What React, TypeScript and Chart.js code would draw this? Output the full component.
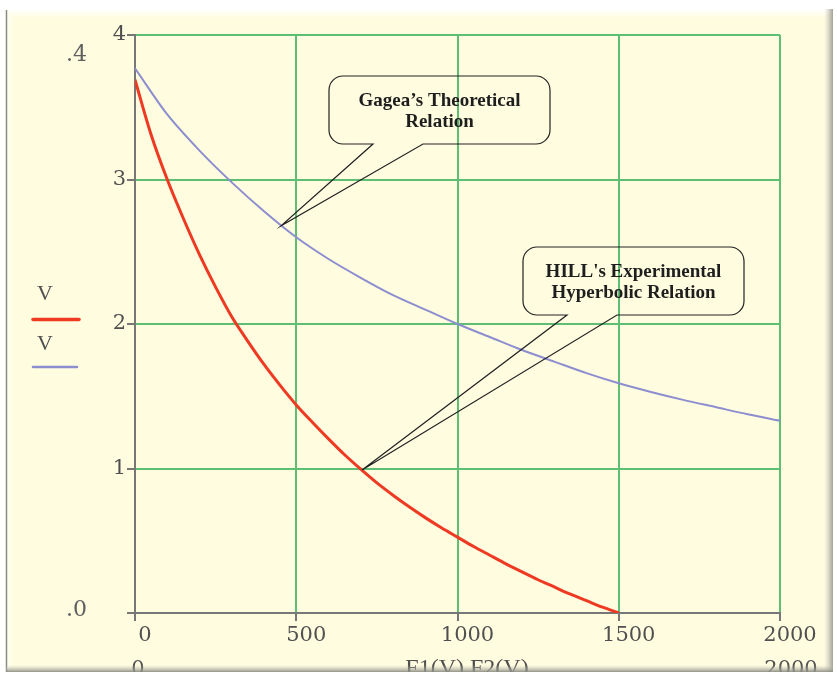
import React, { useEffect, useRef } from 'react';
import { Chart, registerables } from 'chart.js';

Chart.register(...registerables);

// ---- data ----
const hillForce = [0, 50, 100, 150, 200, 250, 300, 350, 400, 450, 500, 550, 600, 650, 700, 750, 800, 850, 900, 950, 1000, 1050, 1100, 1150, 1200, 1250, 1300, 1350, 1400, 1450, 1500];
const hillVelocity = [3.69, 3.31, 3.0, 2.73, 2.48, 2.255, 2.05, 1.88, 1.72, 1.575, 1.44, 1.32, 1.205, 1.095, 0.995, 0.9, 0.815, 0.735, 0.66, 0.59, 0.525, 0.46, 0.4, 0.34, 0.285, 0.23, 0.18, 0.13, 0.085, 0.04, 0.0];

const gageaForce = [0, 100, 200, 300, 400, 500, 600, 700, 800, 900, 1000, 1100, 1200, 1300, 1400, 1500, 1600, 1700, 1800, 1900, 2000];
const gageaVelocity = [3.77, 3.45, 3.2, 2.98, 2.78, 2.6, 2.45, 2.32, 2.2, 2.1, 2.0, 1.91, 1.82, 1.74, 1.66, 1.59, 1.53, 1.475, 1.425, 1.375, 1.33];

const xTicks = [0, 500, 1000, 1500, 2000];
const yTicks = [0, 1, 2, 3, 4];

const legendLabels = ['V', 'V'];
const calloutGagea = ['Gagea\u2019s Theoretical', 'Relation'];
const calloutHill = ["HILL's Experimental", 'Hyperbolic Relation'];
const gageaTip = { x: 453, y: 2.68 };
const hillTip = { x: 704, y: 0.99 };

const CREAM = '#FFFCE0';
const GREEN = '#5CBF74';
const AXIS = '#777777';
const RED = '#EE3A22';
const BLUE = '#8C8ED0';
const TEXT_GRAY = '#505050';
const TICK_FONT = '"DejaVu Serif", serif';

function drawFrameBottom(ctx: CanvasRenderingContext2D) {
  const gr = ctx.createLinearGradient(824, 0, 833, 0);
  gr.addColorStop(0, 'rgba(200,200,190,0)');
  gr.addColorStop(1, 'rgba(150,150,140,0.9)');
  ctx.fillStyle = gr;
  ctx.fillRect(824, 9, 9, 663);
  const gb = ctx.createLinearGradient(0, 665, 0, 672);
  gb.addColorStop(0, 'rgba(200,200,190,0)');
  gb.addColorStop(1, 'rgba(140,140,130,0.95)');
  ctx.fillStyle = gb;
  ctx.fillRect(6, 665, 827, 7);
  ctx.fillStyle = '#ffffff';
  ctx.fillRect(0, 672, 837, 3);
  ctx.fillRect(833, 0, 4, 675);
}

function drawCallout(
  ctx: CanvasRenderingContext2D,
  box: { l: number; t: number; r: number; b: number; rad: number; n1: number; n2: number },
  tip: { x: number; y: number },
  lines: string[],
) {
  const { l, t, r, b, rad, n1, n2 } = box;
  ctx.beginPath();
  ctx.moveTo(n1, b);
  ctx.lineTo(l + rad, b);
  ctx.arcTo(l, b, l, b - rad, rad);
  ctx.lineTo(l, t + rad);
  ctx.arcTo(l, t, l + rad, t, rad);
  ctx.lineTo(r - rad, t);
  ctx.arcTo(r, t, r, t + rad, rad);
  ctx.lineTo(r, b - rad);
  ctx.arcTo(r, b, r - rad, b, rad);
  ctx.lineTo(n2, b);
  ctx.lineTo(tip.x, tip.y);
  ctx.closePath();
  ctx.strokeStyle = '#222222';
  ctx.lineWidth = 1.2;
  ctx.stroke();
  ctx.fillStyle = '#1e1e1e';
  ctx.font = 'bold 19px "Liberation Serif", serif';
  ctx.textAlign = 'center';
  ctx.textBaseline = 'alphabetic';
  const cx = (l + r) / 2;
  ctx.fillText(lines[0], cx, t + 30);
  ctx.fillText(lines[1], cx, t + 51);
}

export default function App() {
  const ref = useRef<HTMLCanvasElement>(null);

  useEffect(() => {
    const canvas = ref.current;
    if (!canvas) return;

    const framePlugin = {
      id: 'frame',
      beforeDraw(chart: any) {
        const ctx: CanvasRenderingContext2D = chart.ctx;
        ctx.save();
        ctx.fillStyle = '#ffffff';
        ctx.fillRect(0, 0, chart.width, chart.height);
        ctx.fillStyle = CREAM;
        ctx.fillRect(6, 9, 827, 663);
        const gt = ctx.createLinearGradient(0, 9, 0, 18);
        gt.addColorStop(0, '#ffffff');
        gt.addColorStop(1, CREAM);
        ctx.fillStyle = gt;
        ctx.beginPath();
        ctx.moveTo(6, 9);
        ctx.lineTo(833, 9);
        ctx.lineTo(824, 18);
        ctx.lineTo(15, 18);
        ctx.closePath();
        ctx.fill();
        const gl = ctx.createLinearGradient(7, 0, 14, 0);
        gl.addColorStop(0, '#fffff4');
        gl.addColorStop(1, CREAM);
        ctx.fillStyle = gl;
        ctx.beginPath();
        ctx.moveTo(7, 9);
        ctx.lineTo(15, 18);
        ctx.lineTo(15, 664);
        ctx.lineTo(7, 672);
        ctx.closePath();
        ctx.fill();
        ctx.strokeStyle = '#8a8a80';
        ctx.lineWidth = 1.5;
        ctx.beginPath();
        ctx.moveTo(6.5, 10);
        ctx.lineTo(6.5, 672);
        ctx.stroke();
        ctx.restore();
      },
      afterDraw(chart: any) {
        const ctx: CanvasRenderingContext2D = chart.ctx;
        const xs = chart.scales.x;
        const ys = chart.scales.y;
        ctx.save();

        // Mathcad-style axis limit labels
        ctx.fillStyle = '#606060';
        ctx.font = '22px "DejaVu Serif", serif';
        ctx.textAlign = 'left';
        ctx.textBaseline = 'alphabetic';
        ctx.fillText('.4', 66, 61);
        ctx.fillText('.0', 66, 616);

        // legend
        ctx.fillStyle = TEXT_GRAY;
        ctx.font = '22px "Liberation Serif", serif';
        ctx.textAlign = 'center';
        ctx.fillText(legendLabels[0], 45, 300);
        ctx.fillText(legendLabels[1], 45, 350);
        ctx.lineCap = 'round';
        ctx.strokeStyle = RED;
        ctx.lineWidth = 3.5;
        ctx.beginPath();
        ctx.moveTo(33, 319.5);
        ctx.lineTo(79, 319.5);
        ctx.stroke();
        ctx.strokeStyle = BLUE;
        ctx.lineWidth = 2.5;
        ctx.beginPath();
        ctx.moveTo(33, 367);
        ctx.lineTo(77, 367);
        ctx.stroke();

        // callouts
        drawCallout(
          ctx,
          { l: 329, t: 76, r: 550, b: 144, rad: 14, n1: 373, n2: 423 },
          { x: xs.getPixelForValue(gageaTip.x), y: ys.getPixelForValue(gageaTip.y) },
          calloutGagea,
        );
        drawCallout(
          ctx,
          { l: 523, t: 247, r: 744, b: 315, rad: 14, n1: 567, n2: 617 },
          { x: xs.getPixelForValue(hillTip.x), y: ys.getPixelForValue(hillTip.y) },
          calloutHill,
        );

        // bottom row (cut off by frame)
        ctx.fillStyle = TEXT_GRAY;
        ctx.font = '21px ' + TICK_FONT;
        ctx.textAlign = 'center';
        ctx.fillText(String(xTicks[0]), 138, 675);
        ctx.fillText(String(xTicks[xTicks.length - 1]), 791, 675);
        ctx.font = '24px "Liberation Serif", serif';
        ctx.fillText('F1(V),F2(V)', 467, 675);

        drawFrameBottom(ctx);
        ctx.restore();
      },
    };

    const chart = new Chart(canvas, {
      type: 'line',
      data: {
        datasets: [
          {
            label: legendLabels[0],
            data: hillForce.map((f, i) => ({ x: f, y: hillVelocity[i] })),
            borderColor: RED,
            borderWidth: 3,
            pointRadius: 0,
            tension: 0.3,
            fill: false,
          },
          {
            label: legendLabels[1],
            data: gageaForce.map((f, i) => ({ x: f, y: gageaVelocity[i] })),
            borderColor: BLUE,
            borderWidth: 2,
            pointRadius: 0,
            tension: 0.3,
            fill: false,
          },
        ],
      },
      options: {
        responsive: false,
        animation: false,
        devicePixelRatio: 1,
        layout: { padding: { left: 105, right: 57, top: 35, bottom: 22 } },
        plugins: { legend: { display: false }, tooltip: { enabled: false } },
        scales: {
          x: {
            type: 'linear',
            min: xTicks[0],
            max: xTicks[xTicks.length - 1],
            afterBuildTicks: (s: any) => {
              s.ticks = xTicks.map((v) => ({ value: v }));
            },
            afterFit: (s: any) => {
              s.height = 40;
            },
            ticks: {
              labelOffset: 10,
              padding: 2,
              maxRotation: 0,
              autoSkip: false,
              color: TEXT_GRAY,
              font: { family: TICK_FONT, size: 21 },
              callback: (v: any) => String(v),
            },
            grid: {
              color: (c: any) => (c.tick && c.tick.value === 0 ? 'rgba(0,0,0,0)' : GREEN),
              lineWidth: 2,
              tickColor: AXIS,
              tickLength: 8,
            },
            border: { color: AXIS, width: 2 },
          },
          y: {
            type: 'linear',
            min: yTicks[0],
            max: yTicks[yTicks.length - 1],
            afterBuildTicks: (s: any) => {
              s.ticks = yTicks.map((v) => ({ value: v }));
            },
            afterFit: (s: any) => {
              s.width = 30;
            },
            ticks: {
              padding: 1,
              color: TEXT_GRAY,
              font: { family: TICK_FONT, size: 21 },
              callback: (v: any) => (v === 0 ? '' : String(v)),
            },
            grid: {
              color: (c: any) => (c.tick && c.tick.value === 0 ? 'rgba(0,0,0,0)' : GREEN),
              lineWidth: 2,
              tickColor: AXIS,
              tickLength: 8,
            },
            border: { color: AXIS, width: 2 },
          },
        },
      } as any,
      plugins: [framePlugin],
    });

    return () => chart.destroy();
  }, []);

  return (
    <div style={{ position: 'fixed', left: 0, top: 0, width: 837, height: 675 }}>
      <canvas ref={ref} width={837} height={675} style={{ display: 'block', width: 837, height: 675 }} />
    </div>
  );
}
